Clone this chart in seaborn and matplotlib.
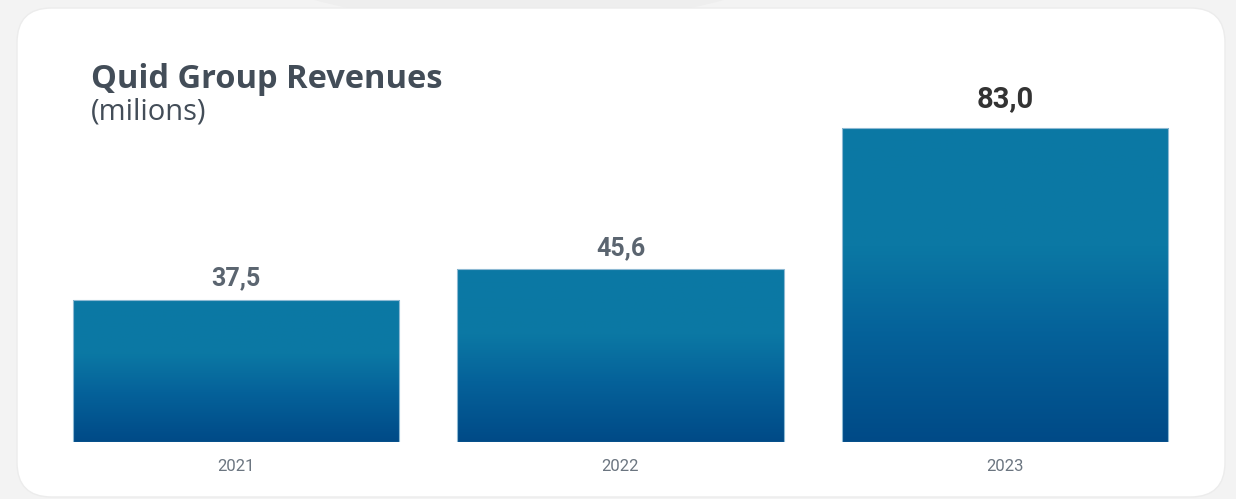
import numpy as np
import pandas as pd
import matplotlib
matplotlib.use("Agg")
import matplotlib.pyplot as plt
import seaborn as sns
from matplotlib.patches import FancyBboxPatch, Circle
from matplotlib.colors import LinearSegmentedColormap

years = ["2021", "2022", "2023"]
revenues = [37.5, 45.6, 83.0]
value_labels = ["37,5", "45,6", "83,0"]
title = "Quid Group Revenues"
subtitle = "(milions)"

sns.set_theme(style="white")
plt.rcParams['font.family'] = ['Open Sans', 'DejaVu Sans']

df = pd.DataFrame({"year": years, "revenue": revenues})

fig = plt.figure(figsize=(12.36, 4.99), dpi=100)
fig.patch.set_facecolor("#f3f3f3")

# faint background circle
fig.patches.append(Circle((0.42, 1.25), 0.30, transform=fig.transFigure,
                          facecolor="#eeeeee", edgecolor="none", zorder=0))
# white card
card = FancyBboxPatch((17/1236, 2/499), (1225-17)/1236, (491-2)/499,
                      boxstyle="round,pad=0,rounding_size=0.028",
                      transform=fig.transFigure, facecolor="white",
                      edgecolor="#ececec", linewidth=1.0, zorder=0.5,
                      mutation_aspect=1236/499)
fig.patches.append(card)

ax = fig.add_axes([43.75/1236, 57/499, 1153.5/1236, 340.5/499])
ax.set_zorder(2)
ax.patch.set_alpha(0)
sns.barplot(data=df, x="year", y="revenue", ax=ax, width=0.848,
            color="#0b78a4", saturation=1, edgecolor="none")

cmap = LinearSegmentedColormap.from_list(
    "g", [(0.0, "#004a87"), (0.35, "#05629a"), (0.62, "#0b78a4"), (1.0, "#0c79a4")])
grad = np.linspace(0, 1, 256).reshape(-1, 1)
for p in list(ax.patches):
    x0 = p.get_x()
    w, h = p.get_width(), p.get_height()
    im = ax.imshow(grad, cmap=cmap, aspect="auto", origin="lower",
                   extent=[x0, x0 + w, 0, h], zorder=2)
    im.set_clip_path(p)
    p.set_facecolor("none")
    p.set_edgecolor("#8db9d3")
    p.set_linewidth(0.8)
    p.set_zorder(3)
ax.set_aspect("auto")
ax.set_xlim(-0.5, 2.5)
ax.set_ylim(0, 90)

label_colors = ["#5b6570", "#5b6570", "#333333"]
label_sizes = [18, 18, 21]
label_offsets = [7, 7, 11]
for i, (v, lab) in enumerate(zip(revenues, value_labels)):
    ax.annotate(lab, (i, v), xytext=(0, label_offsets[i]), textcoords="offset points",
                ha="center", va="bottom", fontsize=label_sizes[i], fontweight="bold",
                family=["Roboto", "DejaVu Sans"], color=label_colors[i])

for s in ax.spines.values():
    s.set_visible(False)
ax.set_yticks([])
ax.set_xlabel("")
ax.set_ylabel("")
ax.tick_params(axis="x", length=0, pad=12, labelsize=12, labelcolor="#6b7580")
for t in ax.get_xticklabels():
    t.set_family(["Roboto", "DejaVu Sans"])

fig.text(91/1236, 1 - 88/499, title, fontsize=23.5, fontweight="bold",
         color="#434d58", ha="left", va="baseline")
fig.text(91/1236, 1 - 120/499, subtitle, fontsize=21, fontweight="normal",
         color="#434d58", ha="left", va="baseline")

fig.savefig("out.png", dpi=100, facecolor=fig.get_facecolor())
